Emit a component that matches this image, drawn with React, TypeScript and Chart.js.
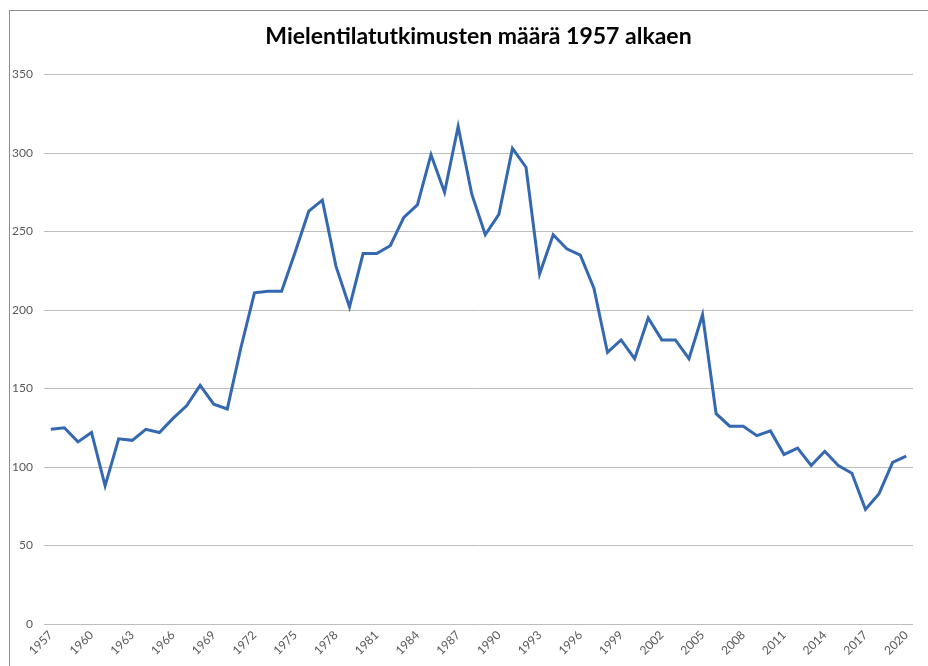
import React, { useEffect, useRef } from "react";
import { Chart, registerables } from "chart.js";

Chart.register(...registerables);

const years: string[] = [];
for (let y = 1957; y <= 2020; y++) years.push(String(y));

const counts: number[] = [
  124, 125, 116, 122, 88, 118, 117, 124, 122, 131,
  139, 152, 140, 137, 176, 211, 212, 212, 237, 263,
  270, 228, 202, 236, 236, 241, 259, 267, 299, 275,
  317, 274, 248, 261, 303, 291, 223, 248, 239, 235,
  214, 173, 181, 169, 195, 181, 181, 169, 197, 134,
  126, 126, 120, 123, 108, 112, 101, 110, 101, 96,
  73, 83, 103, 107,
];

const title = "Mielentilatutkimusten määrä 1957 alkaen";

export default function App() {
  const ref = useRef<HTMLCanvasElement | null>(null);

  useEffect(() => {
    if (!ref.current) return;
    const chart = new Chart(ref.current, {
      type: "line",
      data: {
        labels: years,
        datasets: [
          {
            data: counts,
            borderColor: "#3468b0",
            borderWidth: 3,
            pointRadius: 0,
            tension: 0,
            fill: false,
          },
        ],
      },
      options: {
        animation: false,
        responsive: false,
        maintainAspectRatio: false,
        layout: { padding: { left: 0, right: 15, top: 0, bottom: 0 } },
        plugins: {
          legend: { display: false },
          tooltip: { enabled: false },
          title: {
            display: true,
            fullSize: false,
            text: title,
            color: "#000000",
            font: { family: "Lato", size: 23, weight: "bold" },
            padding: { top: 23, bottom: 24 },
          },
        },
        scales: {
          x: {
            offset: true,
            grid: { display: false, drawTicks: false },
            border: { display: false },
            ticks: {
              autoSkip: false,
              minRotation: 45,
              maxRotation: 45,
              padding: 4,
              color: "#595959",
              font: { family: "Lato", size: 12 },
              callback: (_v: any, i: number) => (i % 3 === 0 ? years[i] : ""),
            },
            afterFit: (s: any) => {
              s.height = 42;
            },
          },
          y: {
            min: 0,
            max: 350,
            grid: { color: "#bdbdbd", lineWidth: 1, drawTicks: false },
            border: { display: false },
            ticks: {
              stepSize: 50,
              padding: 11,
              color: "#595959",
              font: { family: "Lato", size: 12 },
            },
            afterFit: (s: any) => {
              s.width = 44;
            },
          },
        },
      },
    });
    return () => chart.destroy();
  }, []);

  return (
    <div
      style={{
        position: "fixed",
        left: 0,
        top: 0,
        width: 928,
        height: 666,
        overflow: "hidden",
        background: "#ffffff",
      }}
    >
      <div
        style={{
          position: "absolute",
          left: 9,
          top: 10,
          width: 1200,
          height: 1200,
          borderLeft: "1px solid #8e8e8e",
          borderTop: "1px solid #8e8e8e",
        }}
      />
      <canvas
        ref={ref}
        width={928}
        height={666}
        style={{ position: "absolute", left: 0, top: 0, width: 928, height: 666 }}
      />
    </div>
  );
}
